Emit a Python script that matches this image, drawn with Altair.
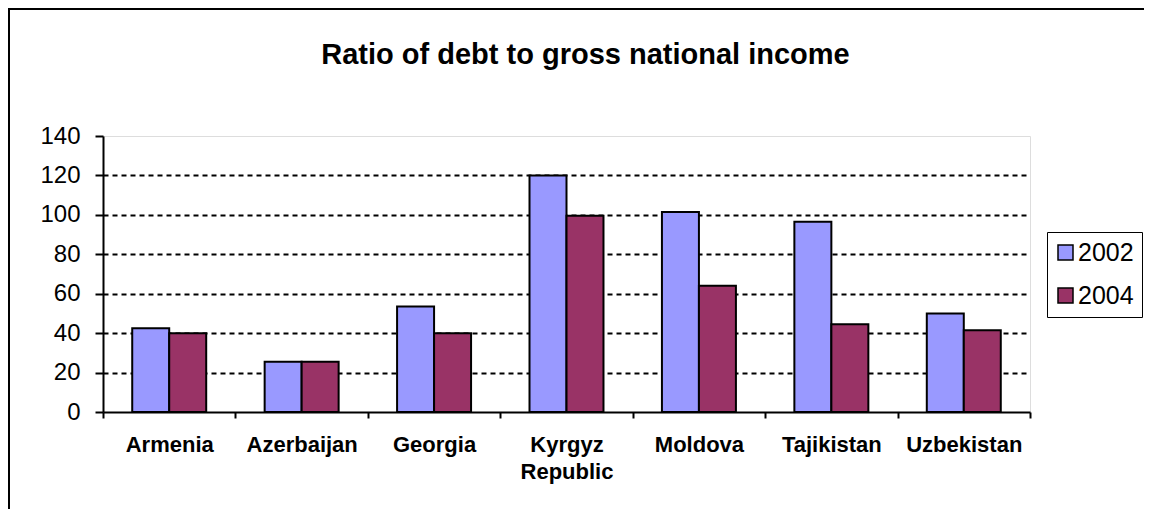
import altair as alt
import pandas as pd

countries = ["Armenia", "Azerbaijan", "Georgia", "Kyrgyz Republic", "Moldova", "Tajikistan", "Uzbekistan"]
years = ["2002", "2004"]
v2002 = [42.5, 25.5, 53.5, 120, 101.5, 96.5, 50]
v2004 = [40, 25.5, 40, 99.5, 64, 44.5, 41.5]
colors = ["#9999FF", "#993366"]
y_ticks = [0, 20, 40, 60, 80, 100, 120, 140]

rows = []
for c, a, b in zip(countries, v2002, v2004):
    rows.append({"country": c, "year": "2002", "value": a})
    rows.append({"country": c, "year": "2004", "value": b})
df = pd.DataFrame(rows)

FONT = "Liberation Sans"
W, H = 927, 276
PAD = {"left": 95, "top": 128, "right": 114, "bottom": 97}

bars = alt.Chart(df).mark_bar(stroke="black", strokeWidth=2).encode(
    x=alt.X(
        "country:N",
        sort=countries,
        scale=alt.Scale(paddingInner=0, paddingOuter=0),
        axis=alt.Axis(
            title=None,
            labelAngle=0,
            tickBand="extent",
            labelExpr="split(datum.label, ' ')",
            labelFont=FONT,
            labelFontSize=22,
            labelFontWeight="bold",
            labelColor="black",
            labelLineHeight=27,
            labelPadding=16,
            tickSize=6,
            tickColor="black",
            tickWidth=2,
            domainColor="black",
            domainWidth=2,
            grid=False,
        ),
    ),
    xOffset=alt.XOffset(
        "year:N",
        sort=years,
        scale=alt.Scale(paddingInner=0, paddingOuter=0.79),
    ),
    y=alt.Y(
        "value:Q",
        scale=alt.Scale(domain=[0, 140], nice=False),
        axis=alt.Axis(
            title=None,
            values=y_ticks,
            labelFont=FONT,
            labelFontSize=24,
            labelColor="black",
            labelPadding=15,
            tickSize=8,
            tickColor="black",
            tickWidth=2,
            domainColor="black",
            domainWidth=2,
            grid=True,
            gridColor="black",
            gridWidth=2,
            gridDash=[5, 4],
            gridOpacity=alt.condition("datum.value == 140 || datum.value == 0", alt.value(0), alt.value(1)),
        ),
    ),
    color=alt.Color(
        "year:N",
        scale=alt.Scale(domain=years, range=colors),
        legend=alt.Legend(
            title=None,
            orient="none",
            legendX=944,
            legendY=96,
            direction="vertical",
            strokeColor="black",
            fillColor="white",
            padding=8,
            symbolType="square",
            symbolSize=225,
            symbolStrokeColor="black",
            symbolStrokeWidth=1.5,
            symbolOpacity=1,
            symbolOffset=-2,
            labelFont=FONT,
            labelFontSize=25,
            labelColor="black",
            labelOffset=0,
            rowPadding=17,
        ),
    ),
)

frame = alt.Chart(alt.Data(values=[{"k": 0}]))
top_line = frame.mark_rule(color="black", strokeWidth=2).encode(
    x=alt.value(-PAD["left"]), x2=alt.value(W + PAD["right"]), y=alt.value(-PAD["top"] + 1)
)
left_line = frame.mark_rule(color="black", strokeWidth=2).encode(
    x=alt.value(-PAD["left"] + 1), y=alt.value(-PAD["top"]), y2=alt.value(H + PAD["bottom"])
)

chart = alt.layer(bars, top_line, left_line).properties(
    width=W,
    height=H,
    padding=PAD,
    autosize=alt.AutoSizeParams(type="none"),
    title=alt.TitleParams(
        "Ratio of debt to gross national income",
        font=FONT,
        fontSize=29,
        fontWeight="bold",
        color="black",
        anchor="middle",
        dx=19,
        offset=-63,
    ),
).configure_view(stroke="#808080", strokeWidth=2).configure(background="white")

chart.save("out.html", embed_options={"renderer": "svg", "actions": False})
